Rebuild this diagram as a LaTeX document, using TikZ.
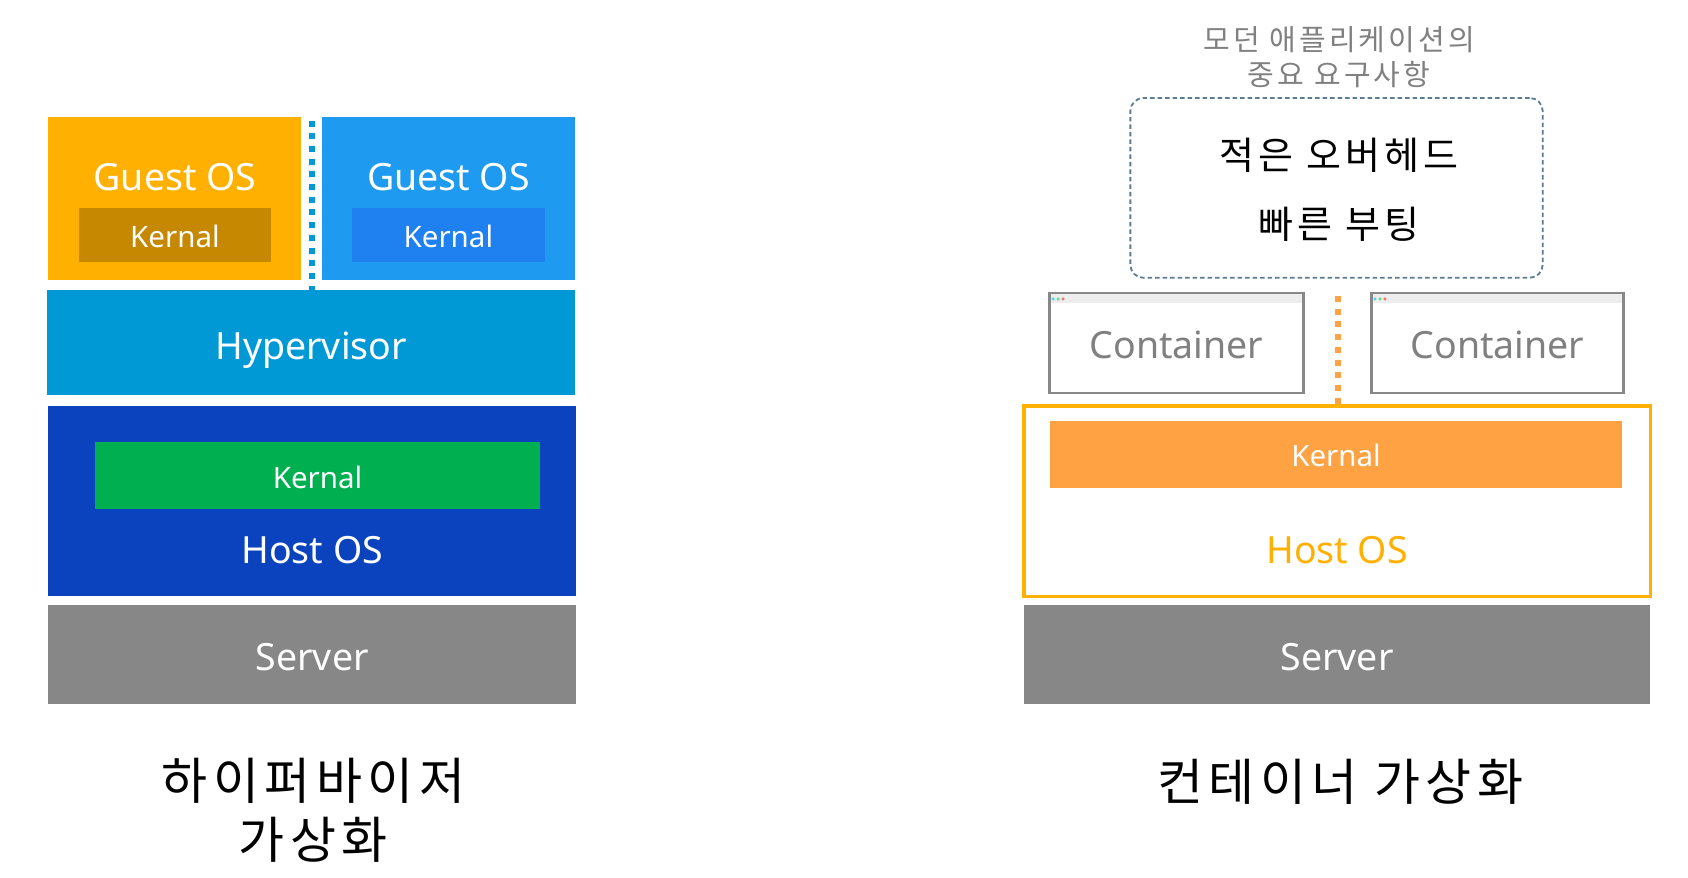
\documentclass[tikz,border=0pt]{standalone}
\usepackage{fontspec}
\setmainfont{Noto Sans}
\newfontfamily\kor[LetterSpace=11]{Noto Sans CJK KR}
\usetikzlibrary{fit}
\definecolor{gorange}{HTML}{FFB000}
\definecolor{kbrown}{HTML}{C58800}
\definecolor{gblue}{HTML}{1E9BF0}
\definecolor{kblue}{HTML}{1F80F0}
\definecolor{hyper}{HTML}{0098D5}
\definecolor{hostblue}{HTML}{0B43BF}
\definecolor{kgreen}{HTML}{00B050}
\definecolor{srv}{HTML}{878787}
\definecolor{korange}{HTML}{FFA243}
\definecolor{capgray}{HTML}{808080}
\definecolor{dashc}{HTML}{5B7C93}
\definecolor{cgray}{HTML}{888888}
\definecolor{barg}{HTML}{EDEDED}
\definecolor{dcyan}{HTML}{4FD3F0}
\definecolor{dgreen}{HTML}{5CDF8A}
\definecolor{dred}{HTML}{F77060}
\begin{document}
\begin{tikzpicture}[x=1.0765pt,y=-1.0765pt,
  blk/.style={inner sep=0pt,outer sep=0pt,draw=none},
  lbl/.style={inner sep=0pt,anchor=base},
  big/.style={font=\fontsize{37.5}{40}\selectfont},
  small/.style={font=\fontsize{29.5}{32}\selectfont},
  kbig/.style={font=\kor\fontsize{50}{59}\selectfont,inner sep=0pt,align=center},
  dotline/.style={line width=6pt,dash pattern=on 6pt off 6.7pt},
  cont/.style={blk,draw=cgray,line width=2.5pt}
]
\useasboundingbox (0,0) rectangle (1568,815);
\fill[white] (0,0) rectangle (1568,815);

% ---------------- left: hypervisor ----------------
\node[blk,fill=gorange,fit={(45,109)(280,260)}] (g1) {};
\node[blk,fill=kbrown,fit={(73,193)(252,243)}] (k1) {};
\node[lbl,big,text=white] (g1t) at (162.5,176.5) {Guest OS};
\node[lbl,small,text=white] (k1t) at (162.5,229.5) {Kernal};

\node[blk,fill=gblue,fit={(299,109)(534,260)}] (g2) {};
\node[blk,fill=kblue,fit={(327,193)(506,243)}] (k2) {};
\node[lbl,big,text=white] (g2t) at (416.5,176.5) {Guest OS};
\node[lbl,small,text=white] (k2t) at (416.5,229.5) {Kernal};

\node[blk,fill=hyper,fit={(44,269)(534,367)}] (hyp) {};
\node[lbl,big,text=white] (hypt) at (289,333.5) {Hypervisor};

\coordinate (dtop) at (289.8,112);
\draw[hyper,dotline] (dtop) -- (dtop |- hyp.north);

\node[blk,fill=hostblue,fit={(45,377)(535,554)}] (host1) {};
\node[blk,fill=kgreen,fit={(88,411)(502,473)}] (kg) {};
\node[lbl,small,text=white] (kgt) at (295,454) {Kernal};
\node[lbl,big,text=white] (host1t) at (290,523) {Host OS};

\node[blk,fill=srv,fit={(45,562)(535,654)}] (srv1) {};
\node[lbl,big,text=white] (srv1t) at (290,623) {Server};

\node[kbig] (lab1) at (291,753) {하이퍼바이저\\가상화};

% ---------------- right: container ----------------
\node[inner sep=0pt,align=center,text=capgray,font=\kor\fontsize{29}{34.5}\selectfont] (cap) at (1244,53) {모던 애플리케이션의\\중요 요구사항};

\node[blk,draw=dashc,line width=1.8pt,dash pattern=on 4.5pt off 3pt,rounded corners=13pt,fit={(1050,91)(1433,258)}] (req) {};
\node[inner sep=0pt,align=center,font=\kor\fontsize{38}{69}\selectfont] (reqt) at (1244,176.5) {적은 오버헤드\\빠른 부팅};

% containers
\fill[barg] (975,272) rectangle (1211,281);
\node[cont,fit={(975,272)(1211,365)}] (c1) {};
\fill[dcyan] (978.3,277.7) circle (1.7pt);
\fill[dgreen] (982.9,277.7) circle (1.7pt);
\fill[dred] (987.5,277.7) circle (1.7pt);
\node[lbl,big,text=capgray] (c1t) at (1093,333) {Container};

\fill[barg] (1274,272) rectangle (1508,281);
\node[cont,fit={(1274,272)(1508,365)}] (c2) {};
\fill[dcyan] (1277.3,277.7) circle (1.7pt);
\fill[dgreen] (1281.9,277.7) circle (1.7pt);
\fill[dred] (1286.5,277.7) circle (1.7pt);
\node[lbl,big,text=capgray] (c2t) at (1391,333) {Container};

% host OS (container side)
\node[blk,draw=gorange,line width=3.6pt,fit={(951,377)(1533,554)}] (host2) {};
\node[blk,fill=korange,fit={(975,391)(1507,453)}] (ko) {};
\node[lbl,small,text=white] (kot) at (1241,433.5) {Kernal};
\node[lbl,big,text=gorange] (host2t) at (1242,523) {Host OS};

\coordinate (otop) at (1242.6,275);
\draw[korange,dotline] (otop) -- (otop |- host2.north);

\node[blk,fill=srv,fit={(951,562)(1533,654)}] (srv2) {};
\node[lbl,big,text=white] (srv2t) at (1242,623) {Server};

\node[kbig] (lab2) at (1245,726) {컨테이너 가상화};
\end{tikzpicture}
\end{document}
